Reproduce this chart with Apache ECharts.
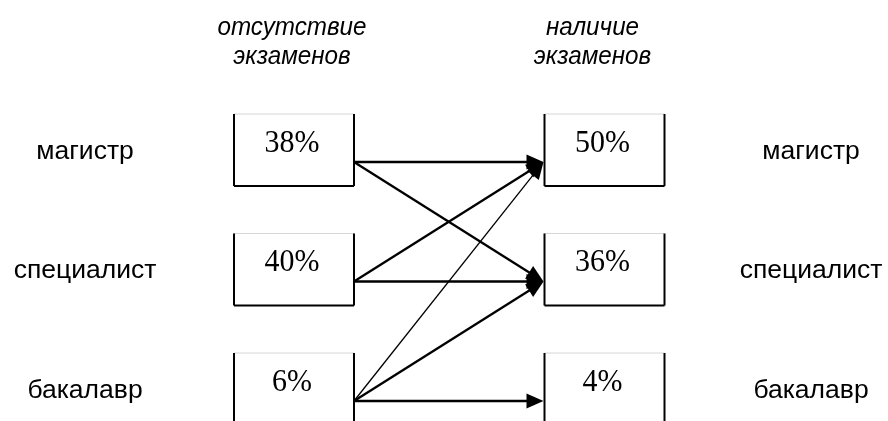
<!DOCTYPE html>
<html><head><meta charset="utf-8">
<script src="https://cdn.jsdelivr.net/npm/echarts@6/dist/echarts.min.js"></script>
<style>html,body{margin:0;padding:0;background:#fff}#c{width:888px;height:421px}</style>
</head><body><div id="c"></div>
<script>
// ---- data ----
const levels = ['магистр', 'специалист', 'бакалавр'];
const columnTitles = ['отсутствие\nэкзаменов', 'наличие\nэкзаменов'];
const noExams = [38, 40, 6];     // % without exams
const withExams = [50, 36, 4];   // % with exams
const transitions = [[0, 0], [0, 1], [1, 0], [1, 1], [2, 0], [2, 1], [2, 2]]; // [from row, to row]
const thinTransitions = ['2-0'];

// ---- style constants ----
const BOX_HW = 60, BOX_HH = 36, ARROW_DY = 12;
const SANS = '"Liberation Sans", Arial, sans-serif';
const SERIF = '"Liberation Serif", "Times New Roman", serif';
const headerDx = [-2, -12];

const boxData = [];
noExams.forEach((v, i) => boxData.push([0, i, v]));
withExams.forEach((v, i) => boxData.push([1, i, v]));
const arrowData = transitions.map(t => [t[0], t[1], thinTransitions.indexOf(t[0] + '-' + t[1]) >= 0 ? 1 : 0]);
const labelData = levels.map((l, i) => [i]);
const headerData = columnTitles.map((t, i) => [i]);

const chart = echarts.init(document.getElementById('c'), null, {renderer: 'canvas'});
chart.setOption({
  animation: false,
  backgroundColor: '#fff',
  grid: {left: 294, top: 150, width: 310.5, height: 239},
  xAxis: {type: 'value', min: 0, max: 1, show: false},
  yAxis: {type: 'value', min: 0, max: 2, inverse: true, show: false},
  series: [
    {
      type: 'custom', clip: false, data: boxData,
      renderItem: function (params, api) {
        const c = api.coord([api.value(0), api.value(1)]);
        const x0 = c[0] - BOX_HW, x1 = c[0] + BOX_HW, y0 = c[1] - BOX_HH, y1 = c[1] + BOX_HH;
        return {type: 'group', children: [
          {type: 'line', shape: {x1: x0, y1: y0, x2: x1, y2: y0}, style: {stroke: '#d6d6d6', lineWidth: 1}},
          {type: 'line', shape: {x1: x0, y1: y0, x2: x0, y2: y1}, style: {stroke: '#000', lineWidth: 2}},
          {type: 'line', shape: {x1: x1, y1: y0, x2: x1, y2: y1}, style: {stroke: '#000', lineWidth: 2}},
          {type: 'line', shape: {x1: x0, y1: y1, x2: x1, y2: y1}, style: {stroke: '#000', lineWidth: 2}},
          {type: 'text', x: c[0] - 2, y: c[1] - 7, scaleY: 1.08, style: {text: api.value(2) + '%', fontSize: 30, fontFamily: SERIF, fill: '#000', align: 'center', verticalAlign: 'middle'}}
        ]};
      }
    },
    {
      type: 'custom', clip: false, data: arrowData,
      renderItem: function (params, api) {
        const s = api.coord([0, api.value(0)]), e = api.coord([1, api.value(1)]);
        const thin = api.value(2) === 1;
        const sx = s[0] + BOX_HW, sy = s[1] + ARROW_DY, ex = e[0] - BOX_HW - 1, ey = e[1] + ARROW_DY;
        const dx = ex - sx, dy = ey - sy, L = Math.hypot(dx, dy), ux = dx / L, uy = dy / L;
        const hl = 17, hw = 7.5;
        const bx = ex - ux * hl, by = ey - uy * hl;
        return {type: 'group', children: [
          {type: 'line', shape: {x1: sx, y1: sy, x2: bx + ux * 3, y2: by + uy * 3}, style: {stroke: '#000', lineWidth: thin ? 1.3 : 2.3}},
          {type: 'polygon', shape: {points: [[ex, ey], [bx - uy * hw, by + ux * hw], [bx + uy * hw, by - ux * hw]]}, style: {fill: '#000'}}
        ]};
      }
    },
    {
      type: 'custom', clip: false, data: labelData,
      renderItem: function (params, api) {
        const row = api.value(0);
        const l = api.coord([0, row]), r = api.coord([1, row]);
        const st = {text: levels[row], fontSize: 26.5, fontFamily: SANS, fill: '#000', align: 'center', verticalAlign: 'middle'};
        return {type: 'group', children: [
          {type: 'text', x: l[0] - 209, y: l[1] + 1.5, style: st},
          {type: 'text', x: r[0] + 206.5, y: r[1] + 1.5, style: Object.assign({}, st)}
        ]};
      }
    },
    {
      type: 'custom', clip: false, data: headerData,
      renderItem: function (params, api) {
        const col = api.value(0);
        const c = api.coord([col, 0]);
        return {type: 'text', x: c[0] + headerDx[col], y: c[1] - 108, scaleX: 0.95, style: {text: columnTitles[col], fontSize: 25.5, fontStyle: 'italic', fontFamily: SANS, lineHeight: 29, fill: '#000', align: 'center', verticalAlign: 'middle'}};
      }
    }
  ]
});
</script></body></html>
